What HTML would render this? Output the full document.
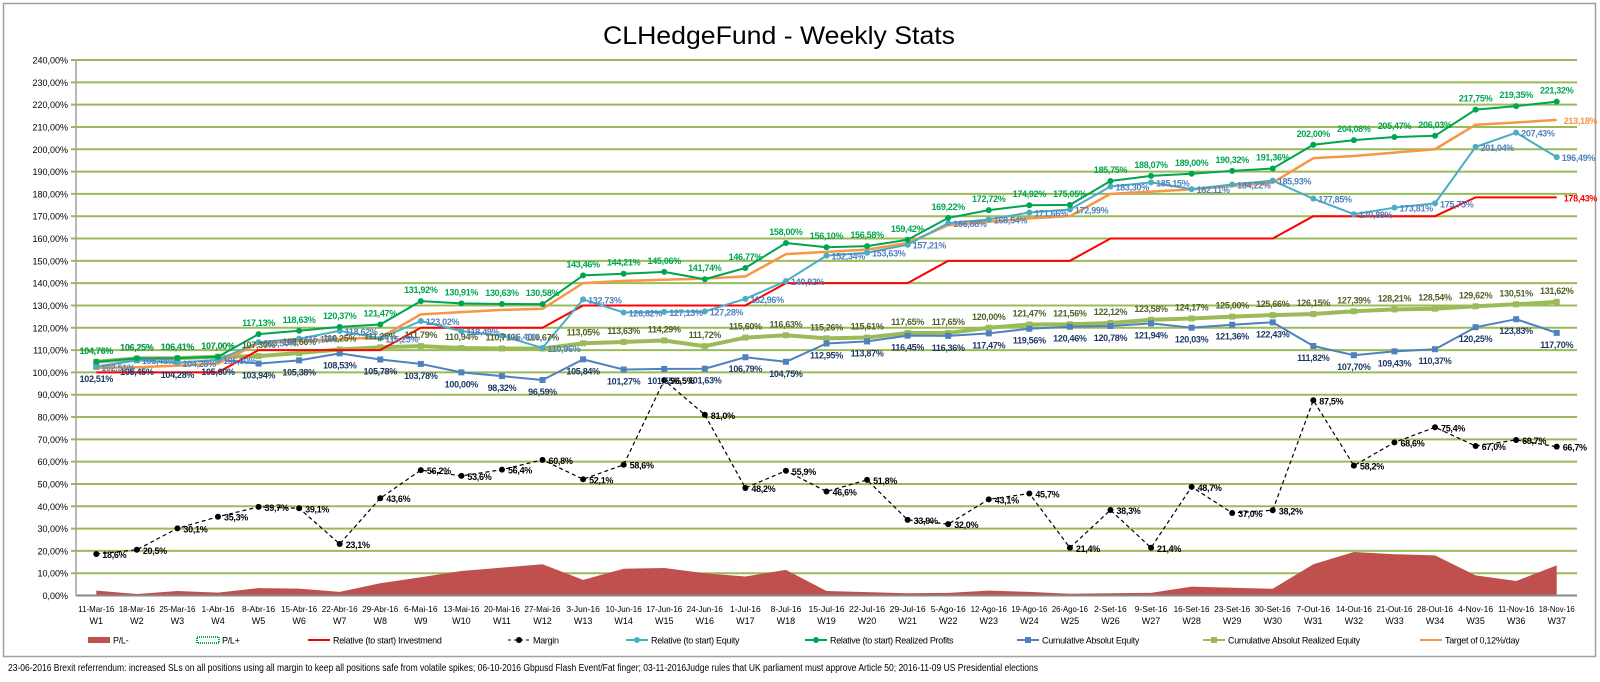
<!DOCTYPE html>
<html><head><meta charset="utf-8">
<style>
html,body{margin:0;padding:0;background:#fff;}
svg text{font-family:"Liberation Sans",sans-serif;}
</style></head>
<body>
<svg id="chart" width="1600" height="677" viewBox="0 0 1600 677" xmlns="http://www.w3.org/2000/svg">
<rect x="3.5" y="3.5" width="1592" height="653" fill="#fff" stroke="#a0a0a0" stroke-width="1.5"/>
<text x="779" y="44" text-anchor="middle" font-size="25" textLength="352" lengthAdjust="spacingAndGlyphs" fill="#000">CLHedgeFund - Weekly Stats</text>
<g id="grid"></g><g id="marks"></g><g id="labels"></g><g id="axes"></g><g id="legend"></g>
<text x="8" y="671" font-size="10" textLength="1030" lengthAdjust="spacingAndGlyphs" fill="#000">23-06-2016 Brexit referrendum: increased SLs on all positions using all margin to keep all positions safe from volatile spikes; 06-10-2016 Gbpusd Flash Event/Fat finger; 03-11-2016Judge rules that UK parliament must approve Article 50; 2016-11-09 US Presidential elections</text>
</svg>
<script>
const dates=["11-Mar-16","18-Mar-16","25-Mar-16","1-Abr-16","8-Abr-16","15-Abr-16","22-Abr-16","29-Abr-16","6-Mai-16","13-Mai-16","20-Mai-16","27-Mai-16","3-Jun-16","10-Jun-16","17-Jun-16","24-Jun-16","1-Jul-16","8-Jul-16","15-Jul-16","22-Jul-16","29-Jul-16","5-Ago-16","12-Ago-16","19-Ago-16","26-Ago-16","2-Set-16","9-Set-16","16-Set-16","23-Set-16","30-Set-16","7-Out-16","14-Out-16","21-Out-16","28-Out-16","4-Nov-16","11-Nov-16","18-Nov-16"];
const weeks=dates.map((d,i)=>"W"+(i+1));
const yTicks=[0,10,20,30,40,50,60,70,80,90,100,110,120,130,140,150,160,170,180,190,200,210,220,230,240];
const plMinus=[2.2,0.7,2,1.3,3.3,3.1,1.6,5.5,8.2,11,12.5,14,7,12,12.3,10,8.5,11.5,2,1.5,1,1.2,2.2,1.6,0.8,1,1.2,4,3.5,3,14,19.5,18.5,18,9,6.5,13.5];
const relInvest=[100,100,100,100,110,110,110,110,120,120,120,120,130,130,130,130,130,140,140,140,140,150,150,150,150,160,160,160,160,160,170,170,170,170,178.43,178.43,178.43];
const margin=[18.6,20.5,30.1,35.3,39.7,39.1,23.1,43.6,56.2,53.6,56.4,60.8,52.1,58.6,96.5,81.0,48.2,55.9,46.6,51.8,33.9,32.0,43.1,45.7,21.4,38.3,21.4,48.7,37.0,38.2,87.5,58.2,68.6,75.4,67.0,69.7,66.7];
const relEquity=[102.51,105.45,104.28,105.60,113.50,115.10,118.62,115.25,123.02,118.49,116.40,110.96,132.73,126.82,127.13,127.28,132.96,140.92,152.34,153.63,157.21,166.88,168.54,171.66,172.99,183.30,185.15,182.11,184.22,185.93,177.85,170.89,173.81,175.75,201.04,207.43,196.49];
const relRealized=[104.76,106.25,106.41,107.00,117.13,118.63,120.37,121.47,131.92,130.91,130.63,130.58,143.46,144.21,145.06,141.74,146.77,158.00,156.10,156.58,159.42,169.22,172.72,174.92,175.05,185.75,188.07,189.00,190.32,191.36,202.00,204.08,205.47,206.03,217.75,219.35,221.32];
const cumEquity=[102.51,105.45,104.28,105.60,103.94,105.38,108.53,105.78,103.78,100.00,98.32,96.59,105.84,101.27,101.55,101.63,106.79,104.75,112.95,113.87,116.45,116.36,117.47,119.56,120.46,120.78,121.94,120.03,121.36,122.43,111.82,107.70,109.43,110.37,120.25,123.83,117.70];
const cumRealized=[104.76,106.25,106.41,107.00,107.30,108.66,110.25,111.25,111.79,110.94,110.71,110.67,113.05,113.63,114.29,111.72,115.60,116.63,115.26,115.61,117.65,117.65,120.00,121.47,121.56,122.12,123.58,124.17,125.00,125.66,126.15,127.39,128.21,128.54,129.62,130.51,131.62];
const target=[102,102.3,103,104,113,114,115,115.5,126,127,128,128.5,140,141,141.5,142,143,153,154,155,158,166,167.5,169,170,180,181,182,183.5,185,196,197,198.5,200,211,212,213.18];

const NS="http://www.w3.org/2000/svg";
const X0=76,X1=1577,Y0=595.5,YT=60;
const n=dates.length, bw=(X1-X0)/n;
function xs(i){return X0+bw*(i+0.5);}
function ys(v){return Y0-(v/240)*(Y0-YT);}
function mk(tag,attrs,parent){const e=document.createElementNS(NS,tag);for(const k in attrs)e.setAttribute(k,attrs[k]);parent.appendChild(e);return e;}
const fmt=v=>v.toFixed(2).replace('.',',')+'%';
const fmt1=v=>v.toFixed(1).replace('.',',')+'%';
const G=document.getElementById('grid'),M=document.getElementById('marks'),L=document.getElementById('labels'),A=document.getElementById('axes'),LG=document.getElementById('legend');

yTicks.forEach(t=>{
  const y=ys(t);
  if(t>0){const l=mk('line',{x1:X0-5,x2:X1,y1:y,y2:y,stroke:'#9bbb59','stroke-width':2},G);
  
  }
  const tx=mk('text',{x:68,y:y+3.5,'text-anchor':'end','font-size':9,fill:'#000'},A);
  tx.textContent=t.toFixed(2).replace('.',',')+'%';
  
  
});
const ax=mk('line',{x1:X0,x2:X0,y1:YT,y2:Y0,stroke:'#a0a0a0','stroke-width':1.5},A);


const bx=mk('line',{x1:X0,x2:X1,y1:Y0,y2:Y0,stroke:'#888','stroke-width':2},A);


dates.forEach((d,i)=>{
  const t=mk('text',{x:xs(i),y:612,'text-anchor':'middle','font-size':8.5,fill:'#000'},A);
  t.textContent=d;
  
  
  if(d.length>=9){t.setAttribute('textLength',36);t.setAttribute('lengthAdjust','spacingAndGlyphs');}
  const w=mk('text',{x:xs(i),y:624,'text-anchor':'middle','font-size':9,fill:'#000'},A);
  w.textContent=weeks[i];
  
  
});

let ad='M'+xs(0)+','+Y0;
plMinus.forEach((v,i)=>{ad+=' L'+xs(i)+','+ys(v);});
ad+=' L'+xs(n-1)+','+Y0+' Z';
const area=mk('path',{d:ad,fill:'#c0504d'},M);



function line(arr,color,w,name,dash){
  const d=arr.map((v,i)=>(i?'L':'M')+xs(i)+','+ys(v)).join(' ');
  const p=mk('path',{d:d,fill:'none',stroke:color,'stroke-width':w,'stroke-linejoin':'round'},M);
  if(dash)p.setAttribute('stroke-dasharray',dash);
  
  
}
function dots(arr,color,shape,sz,name){
  arr.forEach((v,i)=>{
    let e;
    if(shape==='sq') e=mk('rect',{x:xs(i)-sz,y:ys(v)-sz,width:sz*2,height:sz*2,fill:color},M);
    else e=mk('circle',{cx:xs(i),cy:ys(v),r:sz,fill:color},M);
    
    
  });
}
function labels(arr,color,dx,dy,anchor,f,name,only){
  arr.forEach((v,i)=>{
    if(only!==undefined && i!==only)return;
    const t=mk('text',{x:xs(i)+dx,y:ys(v)+dy,'text-anchor':anchor,'font-size':9,'font-weight':'bold','letter-spacing':'-0.3',fill:color},L);
    t.textContent=f(v);
    
    
  });
}
line(cumRealized,'#9bbb59',4,'cumulative-realized-equity-line');
dots(cumRealized,'#9bbb59','sq',3,'cumulative-realized-equity-point');
line(cumEquity,'#4f81bd',2,'cumulative-equity-line');
dots(cumEquity,'#4f81bd','sq',3,'cumulative-equity-point');
line(relInvest,'#ff0000',2,'relative-investment-line');
line(target,'#f79646',2.5,'target-line');
line(relEquity,'#4bacc6',2,'relative-equity-line');
dots(relEquity,'#4bacc6','c',3,'relative-equity-point');
line(relRealized,'#00a550',2,'relative-realized-line');
dots(relRealized,'#00a550','c',3,'relative-realized-point');
line(margin,'#000',1.2,'margin-line','4,3');
dots(margin,'#000','c',3,'margin-point');

labels(cumRealized,'#4f6228',0,-8,'middle',fmt,'cumulative-realized-label');
labels(cumEquity,'#1f3864',0,15,'middle',fmt,'cumulative-equity-label');
labels(relEquity,'#4f81bd',5,4,'start',fmt,'relative-equity-label');
labels(relRealized,'#00a550',0,-8,'middle',fmt,'relative-realized-label');
labels(margin,'#000',6,4,'start',fmt1,'margin-label');
labels(relInvest,'#ff0000',7,4,'start',fmt,'relative-investment-label',n-1);
labels(target,'#f79646',7,4,'start',fmt,'target-label',n-1);

const leg=[
 ['P/L-','area','#c0504d',88],['P/L+','dash','#00b050',197],['Relative (to start) Investmend','line','#ff0000',308],
 ['Margin','margin','#000',508],['Relative (to start) Equity','dot','#4bacc6',626],['Relative (to start) Realized Profits','dot','#00a550',805],
 ['Cumulative Absolut Equity','sq','#4f81bd',1017],['Cumulative Absolut Realized Equity','sq','#9bbb59',1203],['Target of 0,12%/day','line','#f79646',1420]];
leg.forEach(l=>{
  const g=mk('g',{},LG);
  
  
  const x=l[3],y=640;
  if(l[1]==='area')mk('rect',{x:x,y:y-3,width:22,height:6,fill:l[2]},g);
  else if(l[1]==='dash')mk('rect',{x:x,y:y-3,width:22,height:6,fill:'none',stroke:l[2],'stroke-width':2,'stroke-dasharray':'1,1'},g);
  else if(l[1]==='margin'){mk('line',{x1:x,x2:x+22,y1:y,y2:y,stroke:'#000','stroke-dasharray':'3,3'},g);mk('circle',{cx:x+11,cy:y,r:3,fill:'#000'},g);}
  else{mk('line',{x1:x,x2:x+22,y1:y,y2:y,stroke:l[2],'stroke-width':2},g);
    if(l[1]==='dot')mk('circle',{cx:x+11,cy:y,r:3,fill:l[2]},g);
    if(l[1]==='sq')mk('rect',{x:x+8,y:y-3,width:6,height:6,fill:l[2]},g);}
  const t=mk('text',{x:x+25,y:y+3.5,'font-size':9,'letter-spacing':'-0.3',fill:'#000'},g);
  t.textContent=l[0];
});
</script>
</body></html>
